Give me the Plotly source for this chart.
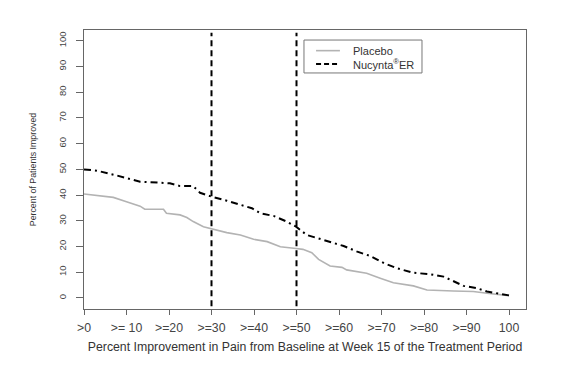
import plotly.graph_objects as go

# Placebo curve (percent improvement threshold vs percent of patients)
placebo_x = [0, 4.6, 6.9, 10, 13.2, 14.3, 18.7, 19.4, 22.6, 24.2, 25.7, 28.1, 30, 33.6, 36.8,
             39.9, 43.1, 46.2, 49.9, 51.5, 53.6, 55.2, 57.9, 60.7, 61.8, 66.5, 69.7, 72.8,
             77.5, 80.7, 86.9, 91.6, 94.8, 100]
placebo_y = [40.4, 39.6, 39.1, 37.4, 35.7, 34.5, 34.5, 32.9, 32.3, 31.3, 29.7, 27.7, 26.9, 25.4,
             24.5, 22.8, 21.9, 19.9, 19.2, 18.9, 17.6, 15.0, 12.4, 11.9, 10.9, 9.6, 7.7, 5.9,
             4.7, 3.1, 2.7, 2.5, 1.8, 0.9]

# Nucynta ER curve
nucynta_x = [0, 3, 7.3, 10, 13.2, 17.9, 20.2, 22.6, 25.7, 27.3, 30, 33.6, 36.8, 39.5, 41.5,
             44.6, 47.7, 49.9, 52.4, 56.4, 61.1, 64.3, 67.4, 70.6, 73.7, 77.5, 81.5, 84.6,
             86.9, 89.3, 92.4, 94.8, 100]
nucynta_y = [50.0, 49.5, 47.8, 46.5, 45.2, 44.8, 44.6, 43.5, 43.5, 40.9, 39.4, 37.8, 36.1, 34.9,
             32.9, 31.9, 29.7, 27.7, 24.5, 22.5, 20.2, 18.0, 16.3, 13.5, 11.5, 9.8, 9.2, 8.3,
             6.6, 4.7, 3.8, 2.5, 1.0]

# Reference thresholds
ref_lines = [30, 50]

x_tickvals = [0, 10, 20, 30, 40, 50, 60, 70, 80, 90, 100]
x_ticktext = [">0", ">= 10", ">=20", ">=30", ">=40", ">=50", ">=60", ">=70", ">=80", ">=90", "100"]
y_tickvals = [0, 10, 20, 30, 40, 50, 60, 70, 80, 90, 100]

series_names = ["Placebo", "Nucynta<sup>®</sup>ER"]
placebo_style = dict(color="#b3b3b3", width=1.6)
nucynta_style = dict(color="black", width=2, dash="7px,4px,2px,4px")

fig = go.Figure()
fig.add_trace(go.Scatter(x=placebo_x, y=placebo_y, mode="lines", name=series_names[0],
                         line=placebo_style, showlegend=False))
fig.add_trace(go.Scatter(x=nucynta_x, y=nucynta_y, mode="lines", name=series_names[1],
                         line=nucynta_style, showlegend=False))

for xv in ref_lines:
    fig.add_shape(type="line", x0=xv, x1=xv, y0=0.01, y1=0.99, xref="x", yref="paper",
                  line=dict(color="black", width=2, dash="6px,4px"))

# Legend box (drawn manually to match the compact R legend)
fig.add_shape(type="rect", xref="paper", yref="paper", x0=0.4977, x1=0.7647, y0=0.846, y1=0.964,
              line=dict(color="#777777", width=1), fillcolor="white", layer="above")
legend_rows = [0.926, 0.878]
legend_styles = [dict(color="#b3b3b3", width=1.6), dict(color="black", width=2, dash="5px,3px")]
for ry, st, nm in zip(legend_rows, legend_styles, series_names):
    fig.add_shape(type="line", xref="paper", yref="paper", x0=0.525, x1=0.579, y0=ry, y1=ry,
                  line=st, layer="above")
    fig.add_annotation(xref="paper", yref="paper", x=0.604, y=ry, text=nm, showarrow=False,
                       xanchor="left", yanchor="middle",
                       font=dict(size=11, color="#333333", family="Liberation Sans, Arial, sans-serif"))

font_fam = "Liberation Sans, Arial, sans-serif"
fig.update_layout(
    width=569, height=367,
    margin=dict(l=76, r=51, t=22, b=66),
    paper_bgcolor="white", plot_bgcolor="white",
    font=dict(family=font_fam, color="#333333", size=11),
    showlegend=False,
    xaxis=dict(range=[0, 104], tickvals=x_tickvals, ticktext=x_ticktext,
               ticks="outside", ticklen=5, tickcolor="#666666",
               showgrid=False, zeroline=False, showline=True, mirror=True,
               linecolor="#666666", linewidth=1, ticklabelstandoff=2,
               tickfont=dict(size=12.3, color="#444444"),
               title=dict(text="Percent Improvement in Pain from Baseline at Week 15 of the Treatment Period",
                          font=dict(size=12.3, color="#333333"), standoff=8)),
    yaxis=dict(range=[-4.3, 104.2], tickvals=y_tickvals, tickangle=-90,
               ticks="outside", ticklen=7, tickcolor="#666666",
               showgrid=False, zeroline=False, showline=True, mirror=True,
               linecolor="#666666", linewidth=1, ticklabelstandoff=6,
               tickfont=dict(size=9.5, color="#444444"),
               title=dict(text="Percent of Patients Improved",
                          font=dict(size=8.8, color="#333333"), standoff=19)),
)

fig.write_html("out.html")
